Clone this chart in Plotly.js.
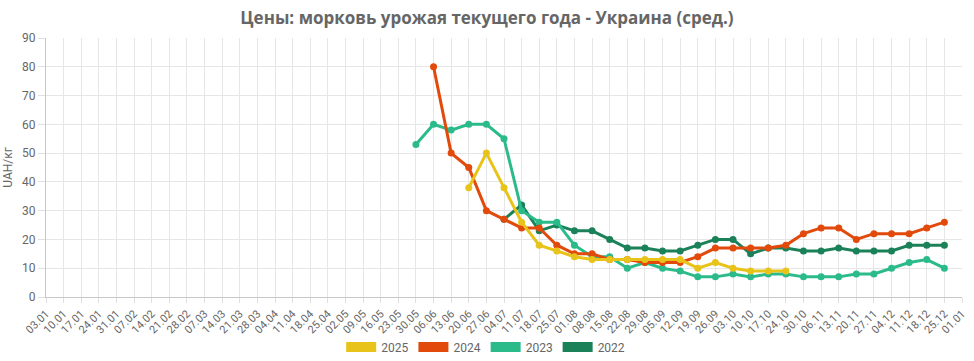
<!DOCTYPE html>
<html>
<head>
<meta charset="utf-8">
<script src="https://cdn.plot.ly/plotly-3.0.1.min.js"></script>
<style>html,body{margin:0;padding:0;background:#fff;}#chart{width:974px;height:361px;}</style>
</head>
<body>
<div id="chart"></div>
<script>
const categories = ["03.01","10.01","17.01","24.01","31.01","07.02","14.02","21.02","28.02","07.03","14.03","21.03","28.03","04.04","11.04","18.04","25.04","02.05","09.05","16.05","23.05","30.05","06.06","13.06","20.06","27.06","04.07","11.07","18.07","25.07","01.08","08.08","15.08","22.08","29.08","05.09","12.09","19.09","26.09","03.10","10.10","17.10","24.10","30.10","06.11","13.11","20.11","27.11","04.12","11.12","18.12","25.12","01.01"];

const _ = null;
// values per category (null = no data)
const y2025 = [_,_,_,_,_,_,_,_,_,_,_,_,_,_,_,_,_,_,_,_,_,_,_,_,38,50,38,26,18,16,14,13,13,13,13,13,13,10,12,10,9,9,9,_,_,_,_,_,_,_,_,_,_];
const y2024 = [_,_,_,_,_,_,_,_,_,_,_,_,_,_,_,_,_,_,_,_,_,_,80,50,45,30,27,24,24,18,15,15,13,13,12,12,12,14,17,17,17,17,18,22,24,24,20,22,22,22,24,26,_];
const y2023 = [_,_,_,_,_,_,_,_,_,_,_,_,_,_,_,_,_,_,_,_,_,53,60,58,60,60,55,30,26,26,18,14,14,10,12,10,9,7,7,8,7,8,8,7,7,7,8,8,10,12,13,10,_];
const y2022 = [_,_,_,_,_,_,_,_,_,_,_,_,_,_,_,_,_,_,_,_,_,_,_,_,_,_,27,32,23,25,23,23,20,17,17,16,16,18,20,20,15,17,17,16,16,17,16,16,16,18,18,18,_];

const seriesNames = ["2025","2024","2023","2022"];
const seriesValues = [y2025, y2024, y2023, y2022];
const seriesColors = ["#E8C31A","#E24A0C","#2BBB8B","#1B8159"];

const traces = [];
// data traces: draw 2022 first so 2025 is on top
for (let i = seriesNames.length - 1; i >= 0; i--) {
  traces.push({
    type: "scatter",
    mode: "lines+markers",
    x: categories,
    y: seriesValues[i],
    name: seriesNames[i],
    showlegend: false,
    connectgaps: false,
    line: {color: seriesColors[i], width: 3},
    marker: {color: seriesColors[i], size: 7},
    hoverinfo: "x+y+name"
  });
}
// legend entries
for (let i = 0; i < seriesNames.length; i++) {
  traces.push({
    type: "scatter",
    mode: "lines",
    x: [null],
    y: [null],
    name: seriesNames[i],
    showlegend: true,
    line: {color: seriesColors[i], width: 10}
  });
}

const layout = {
  width: 974,
  height: 361,
  margin: {l: 46, r: 12, t: 38, b: 64, pad: 0, autoexpand: false},
  paper_bgcolor: "#fff",
  plot_bgcolor: "#fff",
  font: {family: "Roboto, Arial, sans-serif", size: 11, color: "#666"},
  title: {
    text: "Цены: морковь урожая текущего года - Украина (сред.)",
    font: {family: "'Open Sans', Arial, sans-serif", size: 17, color: "#666", weight: "bold"},
    x: 0.5, xanchor: "center",
    y: 1 - 18/361, yanchor: "middle", yref: "container"
  },
  xaxis: {
    type: "category",
    categoryorder: "array",
    categoryarray: categories,
    range: [0, categories.length - 1],
    automargin: false,
    tickangle: -45,
    showgrid: true,
    gridcolor: "#e6e6e6",
    gridwidth: 1,
    showline: true,
    linecolor: "#c8c8c8",
    linewidth: 1,
    ticks: "outside",
    ticklen: 5,
    tickcolor: "#e0e0e0",
    tickfont: {size: 11, color: "#666"},
    zeroline: false,
    fixedrange: true
  },
  yaxis: {
    range: [0, 90],
    dtick: 10,
    tick0: 0,
    automargin: false,
    showgrid: true,
    gridcolor: "#e6e6e6",
    gridwidth: 1,
    showline: true,
    linecolor: "#c8c8c8",
    linewidth: 1,
    ticks: "outside",
    ticklen: 7,
    tickcolor: "#e0e0e0",
    tickfont: {size: 12, color: "#666"},
    zeroline: false,
    title: {text: "UAH/кг", font: {size: 12, color: "#666"}, standoff: 6},
    fixedrange: true
  },
  legend: {
    orientation: "h",
    x: 0.48, xanchor: "center",
    yref: "container",
    y: 1 - 347 / 361, yanchor: "middle",
    font: {size: 12, color: "#666"},
    itemwidth: 30,
    bgcolor: "rgba(0,0,0,0)"
  },
  showlegend: true
};

Plotly.newPlot("chart", traces, layout, {displayModeBar: false, staticPlot: true});
</script>
</body>
</html>
